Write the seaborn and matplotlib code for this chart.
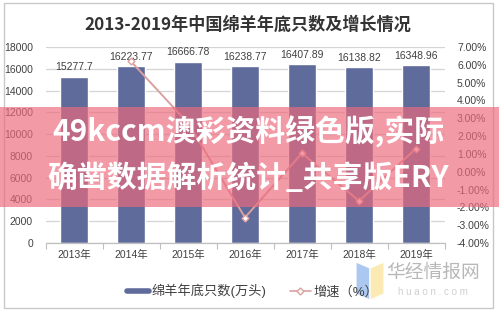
import matplotlib
matplotlib.use("Agg")
import matplotlib.pyplot as plt
from matplotlib.lines import Line2D
from matplotlib.patches import Rectangle, Polygon
from matplotlib.ticker import FuncFormatter, MultipleLocator, FixedLocator
import numpy as np
import pandas as pd
import seaborn as sns

# Data
years = ["2013年", "2014年", "2015年", "2016年", "2017年", "2018年", "2019年"]
sheep = [15277.7, 16223.77, 16666.78, 16238.77, 16407.89, 16138.82, 16348.96]
growth = [np.nan, 6.19, 2.73, -2.57, 1.04, -1.64, 1.30]

title = "2013-2019年中国绵羊年底只数及增长情况"
bar_name = "绵羊年底只数(万头)"
line_name = "增速（%）"
banner_lines = ["49kccm澳彩资料绿色版,实际", "确凿数据解析统计_共享版ERY"]

sns.set_theme(style="white")
plt.rcParams["font.family"] = ["Liberation Sans", "Noto Sans CJK SC", "DejaVu Sans"]

BAR_C = "#5f6b9b"
LINE_C = "#dba0a0"
TXT_C = "#404040"

df = pd.DataFrame({"year": years, "sheep": sheep, "growth": growth})

W, H = 499, 314
fig = plt.figure(figsize=(W / 100, H / 100), dpi=100)
ax = fig.add_axes([45.5 / W, 1 - 243 / H, 399 / W, 196 / H])

sns.barplot(data=df, x="year", y="sheep", order=years, color=BAR_C,
            width=0.5, saturation=1, ax=ax, zorder=2)
ax.set_ylim(0, 18000)
ax.yaxis.set_major_locator(MultipleLocator(2000))
ax.grid(axis="y", color="#d4d4d4", linewidth=0.9, zorder=0)
ax.set_axisbelow(True)
ax.set_xlabel("")
ax.set_ylabel("")
for s in ["top", "right", "left"]:
    ax.spines[s].set_visible(False)
ax.spines["bottom"].set_color("#bfbfbf")
ax.spines["bottom"].set_linewidth(0.9)
ax.tick_params(axis="y", length=0, labelsize=7.5, labelcolor=TXT_C, pad=9)
ax.tick_params(axis="x", length=0, labelsize=7.5, labelcolor=TXT_C, pad=5)
ax.xaxis.set_minor_locator(FixedLocator(np.arange(-0.5, len(years), 1.0)))
ax.tick_params(axis="x", which="minor", bottom=True, length=4, width=0.8, color="#bfbfbf")
ax.set_xlim(-0.5, len(years) - 0.5)

ax.bar_label(ax.containers[0], labels=[str(v) for v in sheep], padding=3,
             fontsize=7.5, color=TXT_C)

ax2 = ax.twinx()
sns.pointplot(data=df, x="year", y="growth", order=years, color=LINE_C,
              markers="D", markersize=3.5, linewidth=1.4, errorbar=None, ax=ax2)
for ln in ax2.lines:
    ln.set_markerfacecolor("white")
    ln.set_markeredgecolor(LINE_C)
    ln.set_markeredgewidth(1.0)
ax2.set_ylim(-4, 7)
ax2.yaxis.set_major_locator(MultipleLocator(1))
ax2.yaxis.set_major_formatter(FuncFormatter(lambda v, p: f"{v:.2f}%"))
ax2.tick_params(axis="y", length=0, labelsize=7.5, labelcolor=TXT_C, pad=9)
ax2.set_ylabel("")
ax2.set_xlabel("")
for s in ["top", "right", "left", "bottom"]:
    ax2.spines[s].set_visible(False)
ax2.set_xlim(-0.5, len(years) - 0.5)

# Title
fig.text(248 / W, 1 - 25 / H, title, ha="center", va="center", fontsize=12.3,
         fontweight="bold", color="#333333", family=["Noto Sans CJK SC"])

# Legend
handles = [Line2D([], [], color=BAR_C, linewidth=4),
           Line2D([], [], color=LINE_C, linewidth=1.2, marker="D", markersize=3.5,
                  markerfacecolor="white", markeredgecolor=LINE_C)]
fig.legend(handles, [bar_name, line_name], loc="center", bbox_to_anchor=(253 / W, 1 - 291 / H),
           ncol=2, frameon=False, fontsize=9.5, handlelength=1.6, handletextpad=0.2,
           columnspacing=1.8, labelcolor=TXT_C)

# Outer frame
fig.patches.append(Rectangle((4 / W, 1 - 308 / H), 489 / W, 305 / H, transform=fig.transFigure,
                             fill=False, edgecolor="#c8c8c8", linewidth=1.0, zorder=0))

# Watermark
fig.patches.append(Polygon([(356 / W, 1 - 262 / H), (370 / W, 1 - 268 / H),
                            (370 / W, 1 - 300 / H), (356 / W, 1 - 294 / H)],
                           closed=True, transform=fig.transFigure, facecolor="#9cc0ee",
                           alpha=0.85, zorder=5))
fig.patches.append(Polygon([(370 / W, 1 - 268 / H), (384 / W, 1 - 262 / H),
                            (384 / W, 1 - 294 / H), (370 / W, 1 - 300 / H)],
                           closed=True, transform=fig.transFigure, facecolor="#fbe7a6",
                           alpha=0.85, zorder=5))
fig.text(433 / W, 1 - 272 / H, "华经情报网", ha="center", va="center", fontsize=13.5,
         color="#b8b8b8", family=["Noto Sans CJK SC"], zorder=6)
fig.text(433 / W, 1 - 292 / H, "h u a o n . c o m", ha="center", va="center", fontsize=7,
         color="#d0d0d0", zorder=6)

# Banner overlay
fig.patches.append(Rectangle((0, 1 - 207 / H), 1, 100 / H, transform=fig.transFigure,
                             facecolor="#ec6a7c", alpha=0.68, edgecolor="none", zorder=10))
for i, t in enumerate(banner_lines):
    fig.text(248 / W, 1 - (132 + i * 46) / H, t, ha="center", va="center", fontsize=21.5,
             fontweight="bold", color="white", family=["Noto Sans CJK SC"], zorder=11)

fig.savefig("out.png", dpi=100)
